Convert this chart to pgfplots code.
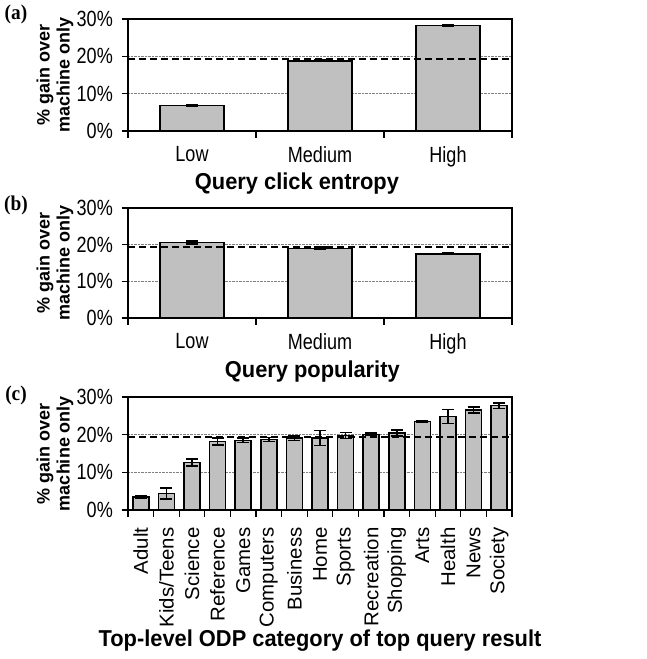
\documentclass[border=0pt]{standalone}
\usepackage{fontspec}
\setmainfont{Liberation Sans}
\newfontfamily\tickfont[FakeStretch=0.82]{Liberation Sans}
\newfontfamily\catfont[FakeStretch=1.02]{Liberation Sans}
\newfontfamily\titlefont[FakeStretch=0.95]{Liberation Sans}
\newfontfamily\serifb[FakeStretch=0.92]{Liberation Serif}
\usepackage{pgfplots}
\usepackage{pgfplotstable}
\pgfplotsset{compat=1.18}
\definecolor{barfill}{HTML}{C0C0C0}

\pgfplotstableread{
x y e
1 6.8 0.3
2 18.8 0.25
3 28.2 0.25
}\dataA
\pgfplotstableread{
x y e
1 20.6 0.4
2 19.0 0.3
3 17.5 0.2
}\dataB
\pgfplotstableread{
x y e
1 3.4 0.3
2 4.4 1.5
3 12.6 0.9
4 18.2 0.9
5 18.5 0.6
6 18.7 0.5
7 19.1 0.6
8 19.1 2.0
9 19.8 0.8
10 20.1 0.3
11 20.5 0.8
12 23.5 0.3
13 24.8 1.9
14 26.5 0.8
15 27.7 0.7
}\dataC

\tikzset{
 ylab/.style={rotate=90, align=center, font=\bfseries\fontsize{18}{20}\selectfont},
 xlab/.style={font=\titlefont\bfseries\fontsize{23}{23}\selectfont},
 plab/.style={font=\serifb\bfseries\fontsize{21}{21}\selectfont},
}
\pgfplotsset{
 panel/.style={
   scale only axis, width=384pt, anchor=south west,
   ymin=0, ymax=30, xmin=0.5,
   axis line style={line width=1.3pt},
   tick pos=left, tick align=outside,
   ytick={0,10,20,30}, yticklabels={0\%,10\%,20\%,30\%},
   major tick length=6pt, minor tick length=7pt,
   tick style={black, line width=1.3pt},
   major x tick style={draw=none},
   ymajorgrids, grid style={densely dotted, black!50, line width=0.7pt},
   yticklabel style={font=\fontsize{22}{22}\tickfont, xshift=-9pt, inner xsep=0pt},
   xticklabel style={font=\fontsize{22}{22}\tickfont, yshift=-6pt},
   clip=false,
 },
 gbar/.style={ybar, bar width=#1, fill=barfill, draw=black, line width=1.5pt,
   error bars/.cd, y dir=both, y explicit, error mark=|,
   error bar style={line width=1.5pt, black},
   error mark options={line width=1.5pt, mark size=6pt, black}},
 avgline/.style={black, line width=2.2pt, dash pattern=on 7pt off 4pt, forget plot},
}

\begin{document}
\begin{tikzpicture}
\path[use as bounding box] (0,0) rectangle (646pt,659pt);

% (a)
\begin{axis}[panel, at={(128pt,528pt)}, height=112pt, xmax=3.5,
  xtick={1,2,3}, xticklabels={Low,Medium,High}, minor xtick={0.5,1.5,2.5,3.5}]
\addplot[gbar=64pt] table[x=x, y=y, y error=e] {\dataA};
\addplot[avgline] coordinates {(0.5,19.3) (3.5,19.3)};
\node[xlab] at (axis description cs:0.44,-0.47) {Query click entropy};
\node[ylab] at (axis description cs:-0.19,0.5) {\% gain over\\machine only};
\end{axis}

% (b)
\begin{axis}[panel, at={(128pt,341pt)}, height=110pt, xmax=3.5,
  xtick={1,2,3}, xticklabels={Low,Medium,High}, minor xtick={0.5,1.5,2.5,3.5}]
\addplot[gbar=64pt] table[x=x, y=y, y error=e] {\dataB};
\addplot[avgline] coordinates {(0.5,19.3) (3.5,19.3)};
\node[xlab] at (axis description cs:0.48,-0.49) {Query popularity};
\node[ylab] at (axis description cs:-0.19,0.5) {\% gain over\\machine only};
\end{axis}

% (c)
\begin{axis}[panel, at={(128pt,149pt)}, height=113pt, xmax=15.5,
  xtick={1,...,15},
  xticklabels={Adult,Kids/Teens,Science,Reference,Games,Computers,Business,Home,Sports,Recreation,Shopping,Arts,Health,News,Society},
  xticklabel style={rotate=90, anchor=east, yshift=0pt, xshift=-2pt, font=\fontsize{20}{20}\catfont},
  minor xtick={0.5,1.5,...,15.5}]
\addplot[gbar=16pt] table[x=x, y=y, y error=e] {\dataC};
\addplot[avgline] coordinates {(0.5,19.3) (15.5,19.3)};
\node[xlab] at (axis description cs:0.5,-1.16) {Top-level ODP category of top query result};
\node[ylab] at (axis description cs:-0.19,0.5) {\% gain over\\machine only};
\end{axis}

\node[plab] at (16pt,645pt) {(a)};
\node[plab] at (16pt,454pt) {(b)};
\node[plab] at (16pt,264pt) {(c)};
\end{tikzpicture}
\end{document}
